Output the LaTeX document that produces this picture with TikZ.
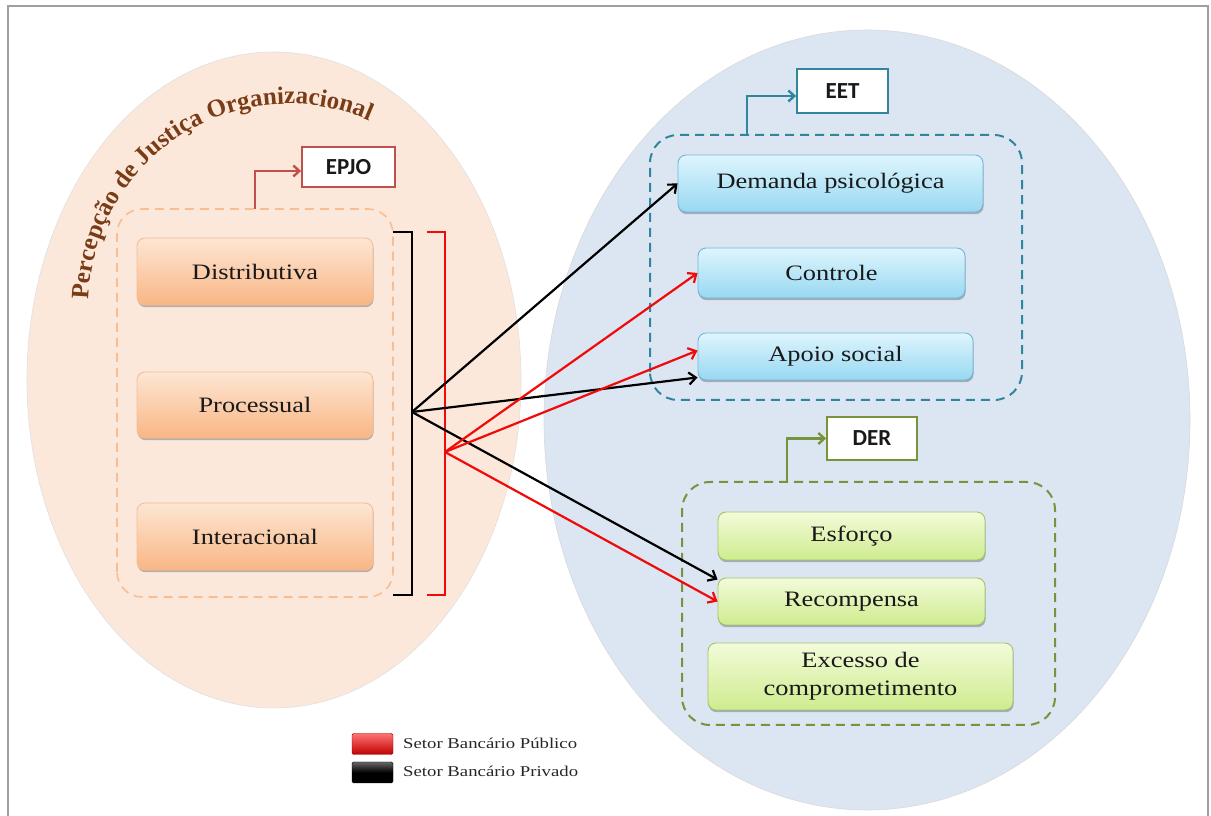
\documentclass[tikz,border=0pt]{standalone}
\usepackage{fontspec}
\setmainfont{Liberation Serif}
\newfontfamily\boxfont[FakeStretch=1.2]{Liberation Serif}
\newfontfamily\legendfont[FakeStretch=1.25]{Liberation Serif}
\newfontfamily\tagfont{Carlito}
\newfontfamily\titlefont{Liberation Serif}
\usetikzlibrary{arrows.meta,decorations.text,shadows}

\definecolor{peachbg}{RGB}{252,232,218}
\definecolor{bluebg}{RGB}{220,230,242}
\definecolor{orangeline}{RGB}{248,190,145}
\definecolor{orangetop}{RGB}{253,230,212}
\definecolor{orangebot}{RGB}{249,182,132}
\definecolor{orangeedge}{RGB}{244,190,150}
\definecolor{bluetop}{RGB}{222,245,253}
\definecolor{bluebot}{RGB}{152,216,242}
\definecolor{blueedge}{RGB}{112,182,216}
\definecolor{greentop}{RGB}{243,251,218}
\definecolor{greenbot}{RGB}{206,236,142}
\definecolor{greenedge}{RGB}{162,196,104}
\definecolor{epjored}{RGB}{192,80,77}
\definecolor{eetteal}{RGB}{49,133,156}
\definecolor{dergreen}{RGB}{119,147,60}
\definecolor{titlebrown}{RGB}{122,60,22}
\definecolor{arrowred}{RGB}{240,10,10}

\tikzset{
  basebox/.style={rounded corners=8pt, line width=0.9pt, inner sep=0pt,
    font=\boxfont\fontsize{22}{28}\selectfont, text=black!90, align=center,
    drop shadow={shadow xshift=0.6pt, shadow yshift=-2.2pt, opacity=0.25, fill=black}},
  obox/.style={basebox, draw=orangeedge, top color=orangetop, bottom color=orangebot},
  bbox/.style={basebox, draw=blueedge, top color=bluetop, bottom color=bluebot},
  gbox/.style={basebox, draw=greenedge, top color=greentop, bottom color=greenbot},
  tagbox/.style={draw, fill=white, line width=1.8pt, inner sep=0pt,
    font=\tagfont\bfseries\fontsize{23}{23}\selectfont, text=black!90},
  groupframe/.style={rounded corners=28pt, line width=2pt, dash pattern=on 9pt off 6pt},
  tagline/.style={line width=2.4pt, -{Straight Barb[length=6pt,width=11pt]}},
  blk/.style={line width=2.2pt, black, -{Straight Barb[length=7pt,width=12pt]}},
  rd/.style={line width=2.2pt, arrowred, -{Straight Barb[length=7pt,width=12pt]}},
  bracketline/.style={line width=2.6pt},
  legendswatch/.style={rounded corners=1.5pt, minimum width=41pt, minimum height=21pt, inner sep=0pt},
  legendtext/.style={font=\legendfont\fontsize{15}{15}\selectfont, text=black!85, anchor=west, inner sep=0pt}
}

\begin{document}
\begin{tikzpicture}[x=1pt,y=1pt]
\useasboundingbox (0,0) rectangle (1211,816);

% outer frame
\draw[gray!75, line width=1.3pt] (8,-5) -- (8,810) -- (1208,810) -- (1208,-5);

% background ellipses
\fill[peachbg] (274,436) ellipse [x radius=247, y radius=328];
\draw[black!12, line width=0.6pt] (274,436) ellipse [x radius=247, y radius=328];
\fill[bluebg] (867,396) ellipse [x radius=323, y radius=390];
\draw[black!15, line width=0.6pt] (867,396) ellipse [x radius=323, y radius=390];

% arched title
\path[decorate, decoration={text along path, text align=center,
    text color=titlebrown,
    text={|\titlefont\bfseries\fontsize{25}{25}\selectfont|Percepção de Justiça Organizacional}}]
  (289,512) ++(181:200) arc[start angle=181, end angle=64, radius=200];

% justice dimensions
\draw[groupframe, orangeline, line width=1.6pt, rounded corners=25pt] (117,219) rectangle (393,607);
\node[obox, minimum width=236pt, minimum height=67pt] (dis) at (255,544.5) {Distributiva};
\node[obox, minimum width=236pt, minimum height=66pt] (pro) at (255,411) {Processual};
\node[obox, minimum width=236pt, minimum height=67pt] (int) at (255,279.5) {Interacional};

\node[tagbox, draw=epjored, minimum width=93pt, minimum height=40pt] (epjo) at (348.5,649) {EPJO};
\coordinate (epjofoot) at (255,607);
\draw[tagline, epjored] (epjofoot) |- ([yshift=-4pt]epjo.west);

% EET group
\draw[groupframe, eetteal] (650,416) rectangle (1022,681);
\node[bbox, minimum width=305pt, minimum height=57pt] (dem) at (830.5,632.5) {Demanda psicológica};
\node[bbox, minimum width=267pt, minimum height=50pt] (con) at (831.5,543) {Controle};
\node[bbox, minimum width=275pt, minimum height=47pt] (apo) at (835.5,459.5) {Apoio social};

\node[tagbox, draw=eetteal, minimum width=91pt, minimum height=44pt] (eet) at (842.5,725) {EET};
\coordinate (eetfoot) at (747,681);
\draw[tagline, eetteal] (eetfoot) |- ([yshift=-5pt]eet.west);

% DER group
\draw[groupframe, dergreen] (682,91) rectangle (1055,334);
\node[gbox, minimum width=267pt, minimum height=48pt] (esf) at (851.5,280) {Esforço};
\node[gbox, minimum width=267pt, minimum height=47pt] (rec) at (851.5,214.5) {Recompensa};
\node[gbox, minimum width=305pt, minimum height=67pt] (exc) at (860.5,139.5) {Excesso de\\comprometimento};

\node[tagbox, draw=dergreen, minimum width=90pt, minimum height=43pt] (der) at (872,377.5) {DER};
\coordinate (derfoot) at (787,334);
\draw[tagline, dergreen] (derfoot) |- (der.west);

% sector brackets
\coordinate (bt) at (412,584);
\coordinate (bb) at (412,221);
\coordinate (rt) at (445,584);
\coordinate (rb) at (445,221);
\draw[bracketline, black] ([xshift=-19pt]bt) -- (bt) -- (bb) -- ([xshift=-19pt]bb);
\draw[bracketline, arrowred] ([xshift=-18pt]rt) -- (rt) -- (rb) -- ([xshift=-18pt]rb);
\coordinate (bs) at (412,404);
\coordinate (rs) at (445,364);

% private sector (black)
\draw[blk] (bs) -- (dem.west);
\draw[blk] (bs) -- ([yshift=3pt]apo.south west);
\draw[blk] (bs) -- ([yshift=-2pt]rec.north west);

% public sector (red)
\draw[rd] (rs) -- (con.west);
\draw[rd] (rs) -- ([yshift=6pt]apo.west);
\draw[rd] (rs) -- (rec.west);

% legend
\node[legendswatch, top color=red!55, bottom color=red!75!black, draw=red!60!black, line width=0.4pt] (lred) at (372.5,72) {};
\node[legendswatch, top color=black!60, bottom color=black, middle color=black, draw=black, line width=0.4pt] (lblk) at (372.5,43.5) {};
\node[legendtext] (tred) at (403,73) {Setor Bancário Público};
\node[legendtext] (tblk) at (403,45) {Setor Bancário Privado};
\end{tikzpicture}
\end{document}
